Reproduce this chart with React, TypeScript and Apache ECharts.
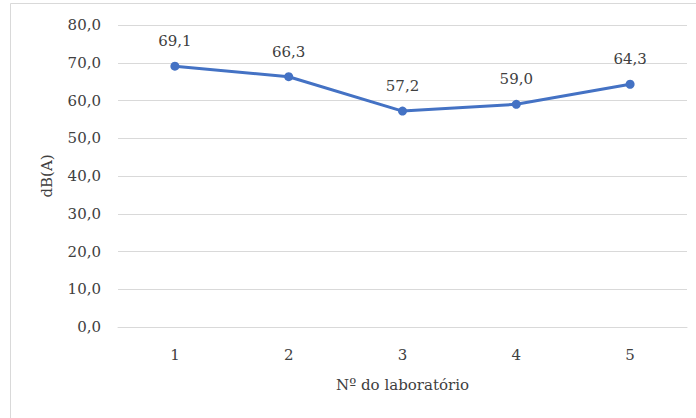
import React, { useEffect, useRef } from "react";
import * as echarts from "echarts";

const categories = ["1", "2", "3", "4", "5"];
const values = [69.1, 66.3, 57.2, 59.0, 64.3];
const yMin = 0;
const yMax = 80;
const yInterval = 10;

const fmt = (v: number) => v.toFixed(1).replace(".", ",");

export default function App() {
  const ref = useRef<HTMLDivElement>(null);
  useEffect(() => {
    document.body.style.margin = "0";
    const chart = echarts.init(ref.current!, undefined, { renderer: "svg" });
    const font = "DejaVu Serif";
    const textColor = "#404040";
    chart.setOption({
      animation: false,
      backgroundColor: "#ffffff",
      textStyle: { fontFamily: font },
      graphic: [
        {
          type: "rect",
          shape: { x: 10.5, y: 3.5, width: 690, height: 420 },
          style: { fill: "none", stroke: "#d9d9d9", lineWidth: 1 },
          silent: true,
        },
      ],
      grid: { left: 118, right: 9, top: 25, bottom: 91 },
      xAxis: {
        type: "category",
        data: categories,
        boundaryGap: true,
        axisLine: { show: true, lineStyle: { color: "#d9d9d9", width: 1 } },
        axisTick: { show: false },
        axisLabel: { color: textColor, fontSize: 15, fontFamily: font, margin: 20 },
        name: "Nº do laboratório",
        nameLocation: "middle",
        nameGap: 50,
        nameTextStyle: { color: textColor, fontSize: 15, fontFamily: font },
      },
      yAxis: {
        type: "value",
        min: yMin,
        max: yMax,
        interval: yInterval,
        axisLine: { show: false },
        axisTick: { show: false },
        splitLine: { lineStyle: { color: "#d9d9d9", width: 1 } },
        axisLabel: {
          color: textColor,
          fontSize: 15,
          fontFamily: font,
          margin: 17,
          formatter: (v: number) => fmt(v),
        },
        name: "dB(A)",
        nameLocation: "middle",
        nameGap: 64,
        nameTextStyle: { color: textColor, fontSize: 15, fontFamily: font },
      },
      series: [
        {
          type: "line",
          data: values,
          symbol: "circle",
          symbolSize: 9,
          lineStyle: { color: "#4472c4", width: 3 },
          itemStyle: { color: "#4472c4" },
          label: {
            show: true,
            position: "top",
            distance: 13,
            color: textColor,
            fontSize: 15,
            fontFamily: font,
            formatter: (p: any) => fmt(p.value),
          },
        },
      ],
    });
    return () => chart.dispose();
  }, []);
  return <div ref={ref} style={{ width: 696, height: 418 }} />;
}
